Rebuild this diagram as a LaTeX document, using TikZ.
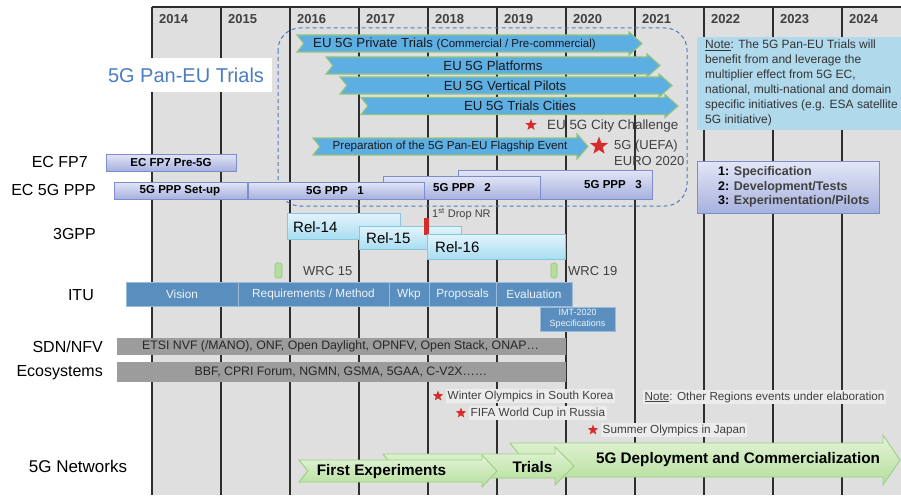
\documentclass[tikz,border=0pt]{standalone}
\usepackage{fontspec}
\setmainfont{Liberation Sans}
\usetikzlibrary{shapes.geometric}

\definecolor{fondgris}{HTML}{DFDFDF}
\definecolor{grille}{HTML}{2E2E2E}
\definecolor{titrebleu}{HTML}{4A7EC2}
\definecolor{banbleu}{HTML}{5CAEE3}
\definecolor{banbord}{HTML}{93C47D}
\definecolor{notebleu}{HTML}{B0D9EC}
\definecolor{pppclair}{HTML}{E2E6F6}
\definecolor{pppfonce}{HTML}{A7B1DE}
\definecolor{pppbord}{HTML}{7D8DCB}
\definecolor{relclair}{HTML}{E3F4FB}
\definecolor{relfonce}{HTML}{A9DDF1}
\definecolor{relbord}{HTML}{88C6E0}
\definecolor{itubleu}{HTML}{5A8EBE}
\definecolor{sdngris}{HTML}{9C9C9C}
\definecolor{vertclair}{HTML}{E4F4D9}
\definecolor{vertfonce}{HTML}{B4DE9B}
\definecolor{vertbord}{HTML}{9CCF82}
\definecolor{etoile}{HTML}{D42B2B}
\definecolor{textegris}{HTML}{404040}

\tikzset{
  anneelbl/.style={font=\fontsize{13}{15}\selectfont\bfseries, text=textegris, anchor=west, inner sep=0},
  rowlbl/.style={font=\fontsize{16}{18}\selectfont, anchor=east, inner sep=0},
  bannertxt/.style={font=\fontsize{13.2}{15}\selectfont, text=black!90, inner sep=0},
  pppbar/.style={draw=pppbord, top color=pppclair, bottom color=pppfonce, line width=0.8pt},
  ppptxt/.style={font=\fontsize{11.5}{13}\selectfont\bfseries, inner sep=0},
  relbox/.style={draw=relbord, top color=relclair, bottom color=relfonce, line width=0.8pt},
  reltxt/.style={font=\fontsize{15}{17}\selectfont, anchor=west, inner sep=0},
  ituseg/.style={draw=itubleu!60!white, fill=itubleu, line width=0.6pt},
  itutxt/.style={font=\fontsize{11.8}{13}\selectfont, text=white!90!itubleu, inner sep=0},
  grislbl/.style={font=\fontsize{13}{15}\selectfont, text=textegris, anchor=west, inner sep=0},
  evtxt/.style={font=\fontsize{11.7}{13}\selectfont, text=textegris, anchor=west, fill=fondgris!60!white, inner sep=1.5pt},
  etoilerouge/.style={star, star points=5, star point ratio=2.4, fill=etoile, inner sep=0, minimum size=#1},
  etoilerouge/.default=11pt,
  wrcmark/.style={draw=banbord, fill=vertfonce, rounded corners=1.5pt, line width=0.6pt},
  bleuban/.style={draw=banbord, fill=banbleu, line width=1.1pt},
  vertban/.style={draw=vertbord, top color=vertclair, bottom color=vertfonce, line width=0.9pt},
  vertxt/.style={font=\fontsize{15.3}{17}\selectfont\bfseries, inner sep=0},
}

% fleche a queue fendue : x debut, x pointe, y milieu, demi-corps, demi-tete, longueur tete
\newcommand{\banniere}[7][]{%
  \draw[#1] (#2,#4-#5) -- (#3-#7,#4-#5) -- (#3-#7,#4-#6) -- (#3,#4)
    -- (#3-#7,#4+#6) -- (#3-#7,#4+#5) -- (#2,#4+#5) -- (#2+0.8*#5,#4) -- cycle;}

\begin{document}
\begin{tikzpicture}[x=1pt, y=-1pt]
    \useasboundingbox (0,0) rectangle (901,495);

    % Fond et grille des annees
    \fill[fondgris] (152,7) rectangle (901,495);
    \foreach \i in {0,...,10} {
        \draw[grille, line width=1.1pt] (152+69*\i,7) -- (152+69*\i,495);
        \pgfmathtruncatemacro{\an}{2014+\i}
        \node[anneelbl] (an\an) at (159+69*\i,19) {\an};
    }
    \draw[grille, line width=2pt] (152,7) -- (901,7);

    % Zone 5G Pan-EU Trials
    \draw[titrebleu, dash pattern=on 4pt off 3pt, line width=1pt, rounded corners=22pt] (278,28) rectangle (687,206);
    \node[fill=white, minimum width=172pt, minimum height=34pt, inner sep=0, font=\fontsize{20}{22}\selectfont, text=titrebleu] (panEU) at (186,75) {5G Pan-EU Trials};

    % Fleches bleues des essais
    \banniere[bleuban]{297}{642}{43.5}{8.5}{11.5}{13}
    \node[bannertxt, anchor=west] (prive) at (313,43.5) {EU 5G Private Trials {\fontsize{11.5}{13}\selectfont(Commercial / Pre-commercial)}};
    \banniere[bleuban]{326}{660}{65.5}{8.5}{11.5}{13}
    \node[bannertxt] (plateformes) at (493,65.5) {EU 5G Platforms};
    \banniere[bleuban]{340}{672}{85.5}{8.5}{11.5}{13}
    \node[bannertxt] (pilotes) at (505,85.5) {EU 5G Vertical Pilots};
    \banniere[bleuban]{361}{678}{106}{8.5}{11.5}{13}
    \node[bannertxt] (villes) at (520,106) {EU 5G Trials Cities};
    \banniere[bleuban]{313}{588}{146.5}{8.5}{12.5}{11}
    \node[bannertxt, font=\fontsize{11.6}{13}\selectfont] (preparation) at (450,146.5) {Preparation of the 5G Pan-EU Flagship Event};

    % Evenements phares
    \node[etoilerouge=12pt] (etCity) at (531,125) {};
    \node[grislbl, font=\fontsize{13.4}{15}\selectfont] (city) at (547,126) {EU 5G City Challenge};
    \node[etoilerouge=19pt] (etUEFA) at (599,146) {};
    \node[grislbl] (uefa) at (614,146) {5G (UEFA)};
    \node[grislbl] (euro) at (614,161.5) {EURO 2020};

    % Note
    \fill[notebleu] (697,37) rectangle (901,130);
    \node[anchor=north west, align=left, inner sep=0, font=\fontsize{12}{15}\selectfont, text=black!80] (note) at (705,40)
        {\underline{Note}: The 5G Pan-EU Trials will\\ benefit from and leverage the\\ multiplier effect from 5G EC,\\ national, multi-national and domain\\ specific initiatives (e.g. ESA satellite\\ 5G initiative)};

    % Legende
    \draw[pppbar] (697,161) rectangle (879,213);
    \node[anchor=west, align=left, inner sep=0, font=\fontsize{12.5}{14.5}\selectfont\bfseries, text=textegris] (legende) at (718,187)
        {\textcolor{black}{1:} Specification\\ \textcolor{black}{2:} Development/Tests\\ \textcolor{black}{3:} Experimentation/Pilots};

    % === EC FP7 et 5G PPP ===
    \draw[pppbar] (106,154) rectangle (236,171);
    \node[ppptxt] (fp7) at (171,162.5) {EC FP7 Pre-5G};
    \draw[pppbar] (458,170) rectangle (652,199);
    \node[ppptxt] (ppp3) at (613,185) {5G PPP\ \ \ 3};
    \draw[pppbar] (383,176) rectangle (540,199);
    \node[ppptxt] (ppp2) at (462,188) {5G PPP\ \ \ 2};
    \draw[pppbar] (248,182) rectangle (424,199);
    \node[ppptxt] (ppp1) at (335,190.5) {5G PPP\ \ \ 1};
    \draw[pppbar] (114,182) rectangle (247,199);
    \node[ppptxt] (setup) at (180,190.5) {5G PPP Set-up};

    % === 3GPP ===
    \draw[relbox] (287,213) rectangle (400,239);
    \node[reltxt] (rel14) at (293,227.5) {Rel-14};
    \draw[relbox] (359,226) rectangle (461,249);
    \node[reltxt] (rel15) at (366,238) {Rel-15};
    \fill[etoile] (424,218) rectangle (429,235);
    \draw[relbox] (427,234) rectangle (565,259);
    \node[reltxt] (rel16) at (435,247) {Rel-16};
    \node[grislbl, font=\fontsize{11}{13}\selectfont] (drop) at (432,214) {1\textsuperscript{st} Drop NR};

    % === ITU ===
    \draw[wrcmark] (275,263) rectangle (282,278);
    \node[grislbl] (wrc15) at (303,271) {WRC 15};
    \draw[wrcmark] (551,263) rectangle (557,278);
    \node[grislbl] (wrc19) at (568,271) {WRC 19};
    \foreach \xa/\xb/\lbl/\nom in {126/238/Vision/vision, 238/389/{Requirements / Method}/req, 389/429/Wkp/wkp, 429/496/Proposals/prop, 496/572/Evaluation/eval} {
        \draw[ituseg] (\xa,282) rectangle (\xb,306);
        \node[itutxt] (\nom) at ({(\xa+\xb)/2},294) {\lbl};
    }
    \draw[ituseg] (540,307) rectangle (615,331);
    \node[itutxt, font=\fontsize{9}{11.5}\selectfont, align=center] (imt) at (577.5,319) {IMT-2020\\Specifications};

    % === SDN/NFV et ecosystemes ===
    \fill[sdngris] (117,338) rectangle (566,355);
    \node[anchor=west, inner sep=0, font=\fontsize{12.3}{14}\selectfont, text=black!85] (sdn) at (142,346.5) {ETSI NVF (/MANO), ONF, Open Daylight, OPNFV, Open Stack, ONAP…};
    \fill[sdngris] (117,362) rectangle (566,382);
    \node[inner sep=0, font=\fontsize{12.3}{14}\selectfont, text=black!85] (eco) at (341,372) {BBF, CPRI Forum, NGMN, GSMA, 5GAA, C-V2X……};

    % Evenements mondiaux
    \node[evtxt] (jo) at (446,396) {Winter Olympics in South Korea};
    \node[etoilerouge] (etJO) at (438,396) {};
    \node[evtxt] (fifa) at (469,413) {FIFA World Cup in Russia};
    \node[etoilerouge] (etFifa) at (461,413) {};
    \node[evtxt] (japon) at (601,430) {Summer Olympics in Japan};
    \node[etoilerouge] (etJapon) at (593,430) {};
    \node[evtxt] (autres) at (643,397) {\underline{Note}: Other Regions events under elaboration};

    % === Reseaux 5G ===
    \banniere[vertban]{510}{900}{460}{17}{25}{17}
    \banniere[vertban]{383}{574}{466}{12}{19}{19}
    \banniere[vertban]{299}{497}{471}{11}{16}{15}
    \node[vertxt] (deploiement) at (738,460) {5G Deployment and Commercialization};
    \node[vertxt] (essais) at (532.5,467) {Trials};
    \node[vertxt] (premiers) at (381.5,472) {First Experiments};

    % Libelles des lignes
    \node[rowlbl] (lblFP7) at (88,162) {EC FP7};
    \node[rowlbl] (lblPPP) at (96,190) {EC 5G PPP};
    \node[rowlbl] (lbl3gpp) at (96,234) {3GPP};
    \node[rowlbl] (lblITU) at (94,295) {ITU};
    \node[rowlbl] (lblSDN) at (103,347) {SDN/NFV};
    \node[rowlbl] (lblEco) at (103,373) {Ecosystems};
    \node[rowlbl, anchor=center, font=\fontsize{17}{19}\selectfont] (lbl5G) at (78,466) {5G Networks};
\end{tikzpicture}
\end{document}
